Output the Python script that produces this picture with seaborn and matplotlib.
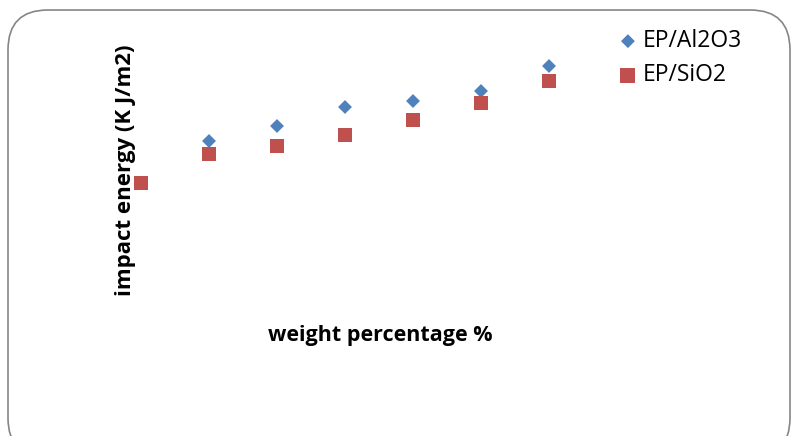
import matplotlib
matplotlib.use("Agg")
import matplotlib.pyplot as plt
import seaborn as sns
import pandas as pd
from matplotlib.patches import FancyBboxPatch

# data (no axis scale shown, values estimated)
weight_al2o3 = [1, 2, 3, 4, 5, 6]
energy_al2o3 = [12.2, 13.7, 15.6, 16.2, 17.2, 19.7]
weight_sio2 = [0, 1, 2, 3, 4, 5, 6]
energy_sio2 = [8.0, 10.9, 11.7, 12.8, 14.3, 16.0, 18.2]
series_names = ["EP/Al2O3", "EP/SiO2"]
series_colors = ["#4F81BD", "#C0504D"]

sns.set_style("white")
plt.rcParams["font.family"] = ["Open Sans", "DejaVu Sans"]
plt.rcParams["text.color"] = "black"
plt.rcParams["axes.labelcolor"] = "black"

df_al = pd.DataFrame({"weight": weight_al2o3, "energy": energy_al2o3})
df_si = pd.DataFrame({"weight": weight_sio2, "energy": energy_sio2})

fig = plt.figure(figsize=(7.98, 4.36), dpi=100)
ax = fig.add_axes([100 / 798, 1 - 290 / 436, 500 / 798, 250 / 436])

sns.scatterplot(data=df_al, x="weight", y="energy", marker="D", s=50,
                color=series_colors[0], edgecolor="none", label=series_names[0], ax=ax)
sns.scatterplot(data=df_si, x="weight", y="energy", marker="s", s=115,
                color=series_colors[1], edgecolor="none", label=series_names[1], ax=ax)

ax.set_xlim(-0.603, 6.75)
ax.set_ylim(-2.7, 22.3)
ax.set_xticks([])
ax.set_yticks([])
sns.despine(ax=ax, left=True, bottom=True)

ax.set_xlabel("weight percentage %", fontsize=15.5, fontweight="bold")
ax.set_ylabel("impact energy (K J/m2)", fontsize=16, fontweight="bold")
ax.xaxis.set_label_coords(0.56, -0.14)
ax.yaxis.set_label_coords(0.072, 0.48)

leg = ax.legend(loc="upper left", bbox_to_anchor=(605 / 798, 1 - 20 / 436),
                bbox_transform=fig.transFigure, frameon=False, fontsize=16.5,
                handletextpad=0.05, labelspacing=0.45, borderaxespad=0,
                handlelength=1.2)

# rounded chart border
border = FancyBboxPatch((8 / 798, -0.05), 782 / 798, (436 - 10) / 436 + 0.05,
                        boxstyle="round,pad=0,rounding_size=0.05",
                        transform=fig.transFigure, fill=False,
                        edgecolor="#868686", linewidth=1.2, mutation_aspect=798 / 436)
fig.patches.append(border)

fig.savefig("out.png", dpi=100)
